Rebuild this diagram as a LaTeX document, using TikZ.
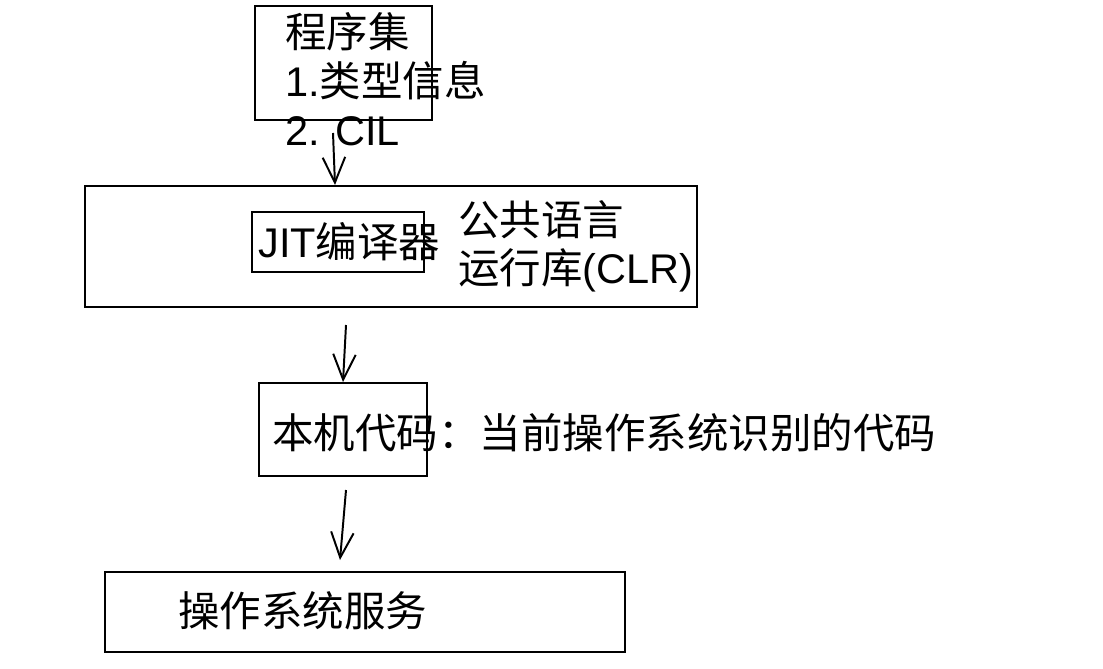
\documentclass[tikz,border=0pt]{standalone}
\usepackage{fontspec}
\setmainfont{Liberation Sans}
\newfontfamily\cjk{Noto Sans CJK SC}
\usepackage{tikz}
\usetikzlibrary{arrows.meta}

\begin{document}
\begin{tikzpicture}[x=0.025cm,y=-0.025cm,
  box/.style={draw,line width=1.4pt,inner sep=0pt},
  txt/.style={inner sep=0pt,anchor=base west,align=left,font=\fontsize{29.5}{35}\selectfont},
  arr/.style={line width=1.4pt,-{Straight Barb[length=18pt,width=16pt,line width=1.4pt]}}]
  \useasboundingbox (0,0) rectangle (1103,669);
  % boxes
  \node[box,minimum width=4.425cm,minimum height=2.85cm] (asm) at (343.5,63) {};
  \node[box,minimum width=15.3cm,minimum height=3.025cm] (clr) at (391,246.5) {};
  \node[box,minimum width=4.3cm,minimum height=1.5cm] (jit) at (338,242) {};
  \node[box,minimum width=4.2cm,minimum height=2.325cm] (native) at (343,429.5) {};
  \node[box,minimum width=13cm,minimum height=2cm] (os) at (365,612) {};
  % texts (base = last line)
  \node[txt] (asmtxt) at (285,146) {{\cjk 程序集}\\1.{\cjk 类型信息}\\2. CIL};
  \node[txt] (jittxt) at (258,258) {JIT{\cjk 编译器}};
  \node[txt,font=\fontsize{29.5}{34}\selectfont] (clrtxt) at (458,283) {{\cjk 公共语言}\\{\cjk 运行库}(CLR)};
  \node[txt] (nativetxt) at (272,448) {\cjk 本机代码：当前操作系统识别的代码};
  \node[txt] (ostxt) at (178,626) {\cjk 操作系统服务};
  % arrows
  \coordinate (s1) at (333,133);
  \coordinate (s2) at (346,325);
  \coordinate (s3) at (346,490);
  \coordinate (e3) at (340,560);
  \draw[arr] (s1) -- (clr.north -| 335,0);
  \draw[arr] (s2) -- (native.north -| 343,0);
  \draw[arr] (s3) -- (e3);
\end{tikzpicture}
\end{document}
